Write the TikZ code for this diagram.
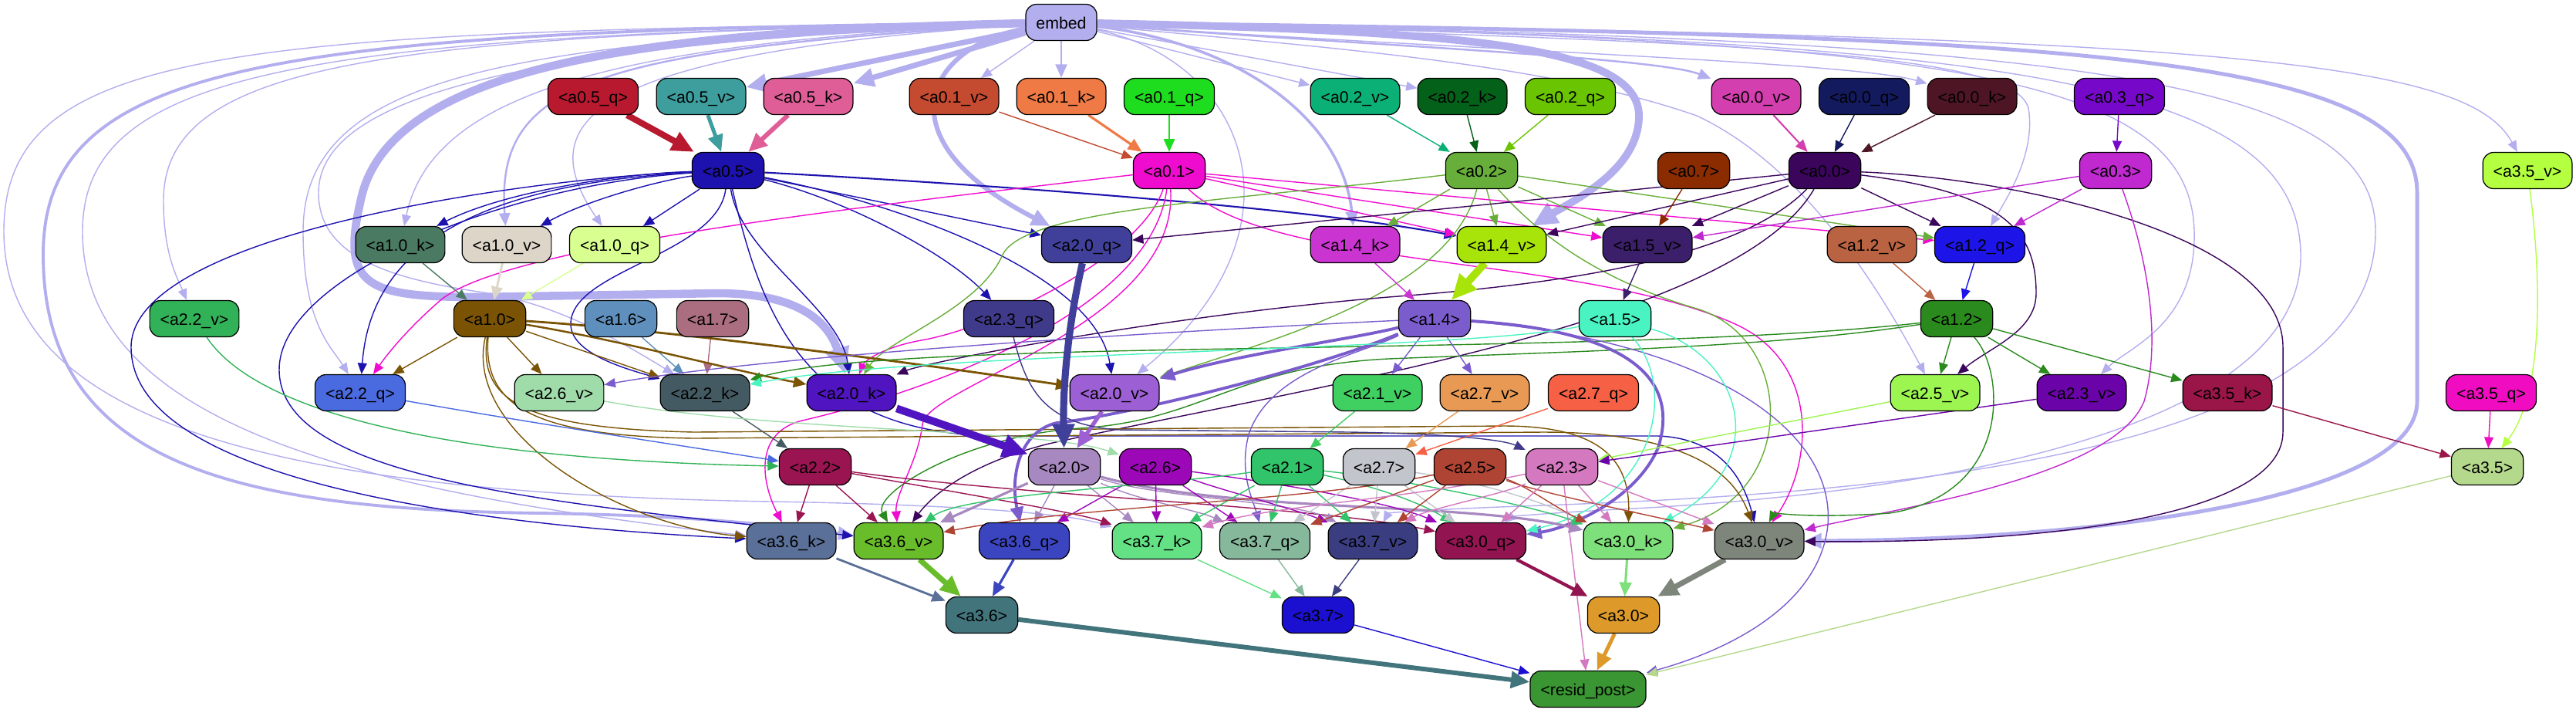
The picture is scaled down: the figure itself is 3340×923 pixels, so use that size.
\documentclass[tikz,border=0pt]{standalone}
\usepackage{fontspec}
\setmainfont{Liberation Sans}
\usepackage{xcolor}
\usepackage{tikz}
\usetikzlibrary{arrows.meta}

\pgfdeclarelayer{edges}
\pgfsetlayers{edges,main}

\definecolor{cemb}{HTML}{B3AEEE}
\definecolor{c05q}{HTML}{B8192F}
\definecolor{c05v}{HTML}{3E9E9E}
\definecolor{c05k}{HTML}{E05E98}
\definecolor{c01v}{HTML}{C44A30}
\definecolor{c01k}{HTML}{F07A45}
\definecolor{c01q}{HTML}{1EDD1E}
\definecolor{c02v}{HTML}{0BB076}
\definecolor{c02k}{HTML}{04611A}
\definecolor{c02q}{HTML}{6AC402}
\definecolor{c00v}{HTML}{D43FAF}
\definecolor{c00q}{HTML}{141A5E}
\definecolor{c00k}{HTML}{4E1625}
\definecolor{c03q}{HTML}{7608CA}
\definecolor{c05}{HTML}{1D12AE}
\definecolor{c01}{HTML}{F00CCF}
\definecolor{c02}{HTML}{68AE3A}
\definecolor{c07}{HTML}{8A2C00}
\definecolor{c00}{HTML}{3B055B}
\definecolor{c03}{HTML}{C028D0}
\definecolor{c35v}{HTML}{B3FF40}
\definecolor{c10k}{HTML}{4A7A62}
\definecolor{c10v}{HTML}{DCD5C8}
\definecolor{c10q}{HTML}{D8FF90}
\definecolor{c20q}{HTML}{40409A}
\definecolor{c14k}{HTML}{CA34D0}
\definecolor{c14v}{HTML}{A8E40A}
\definecolor{c15v}{HTML}{3C1F6A}
\definecolor{c12v}{HTML}{BA6342}
\definecolor{c12q}{HTML}{1D14E8}
\definecolor{c22v}{HTML}{32B258}
\definecolor{c10}{HTML}{7A5404}
\definecolor{c16}{HTML}{5F90BD}
\definecolor{c17}{HTML}{AA6E80}
\definecolor{c23q}{HTML}{403A8A}
\definecolor{c14}{HTML}{7A5CCC}
\definecolor{c15}{HTML}{4AF4C2}
\definecolor{c12}{HTML}{2A8A1E}
\definecolor{c22q}{HTML}{4A6AE0}
\definecolor{c26v}{HTML}{A0DCAA}
\definecolor{c22k}{HTML}{445A62}
\definecolor{c20k}{HTML}{5014C0}
\definecolor{c20v}{HTML}{9C60D4}
\definecolor{c21v}{HTML}{40D062}
\definecolor{c27v}{HTML}{E89A55}
\definecolor{c27q}{HTML}{F66045}
\definecolor{c25v}{HTML}{9CF550}
\definecolor{c23v}{HTML}{6A04A8}
\definecolor{c35k}{HTML}{9A1548}
\definecolor{c35q}{HTML}{F00CC0}
\definecolor{c22}{HTML}{9A1452}
\definecolor{c20}{HTML}{A888C0}
\definecolor{c26}{HTML}{9C07B8}
\definecolor{c21}{HTML}{32C46A}
\definecolor{c27}{HTML}{C2C6CC}
\definecolor{c25}{HTML}{B04434}
\definecolor{c23}{HTML}{D478C0}
\definecolor{c35}{HTML}{B4D88C}
\definecolor{c36k}{HTML}{5A7098}
\definecolor{c36v}{HTML}{6ABD2A}
\definecolor{c36q}{HTML}{3C45C0}
\definecolor{c37k}{HTML}{64E085}
\definecolor{c37q}{HTML}{86B89C}
\definecolor{c37v}{HTML}{3A3D80}
\definecolor{c30q}{HTML}{921450}
\definecolor{c30k}{HTML}{7EE07A}
\definecolor{c30v}{HTML}{7E867C}
\definecolor{c36}{HTML}{42747C}
\definecolor{c37}{HTML}{1B10D0}
\definecolor{c30}{HTML}{DD9A2A}
\definecolor{cres}{HTML}{3A9632}

\begin{document}
\begin{tikzpicture}[x=0.01cm, y=-0.01cm, >={Triangle[length=3.2pt 2.2, width=2.6pt 2]},
  blk/.style={draw=black, line width=0.35pt, rounded corners=0.14cm, minimum height=0.47cm, minimum width=0.9cm, inner xsep=0.135cm, inner ysep=0pt, text height=0.72em, text depth=0.22em, font=\fontsize{6.05}{7}\selectfont},
  lnk/.style={->, line width=0.4pt}]
  \useasboundingbox (0,0) rectangle (3340,923);
  % input
  \node[blk, fill=cemb] (embed) at (1376,29) {embed};
  % layer 0 q/k/v
  \node[blk, fill=c05q] (a05q) at (769,125) {<a0.5\_q>};
  \node[blk, fill=c05v] (a05v) at (909,125) {<a0.5\_v>};
  \node[blk, fill=c05k] (a05k) at (1048,125) {<a0.5\_k>};
  \node[blk, fill=c01v] (a01v) at (1237,125) {<a0.1\_v>};
  \node[blk, fill=c01k] (a01k) at (1376,125) {<a0.1\_k>};
  \node[blk, fill=c01q] (a01q) at (1516,125) {<a0.1\_q>};
  \node[blk, fill=c02v] (a02v) at (1757,125) {<a0.2\_v>};
  \node[blk, fill=c02k] (a02k) at (1896,125) {<a0.2\_k>};
  \node[blk, fill=c02q] (a02q) at (2036,125) {<a0.2\_q>};
  \node[blk, fill=c00v] (a00v) at (2277,125) {<a0.0\_v>};
  \node[blk, fill=c00q] (a00q) at (2417,125) {<a0.0\_q>};
  \node[blk, fill=c00k] (a00k) at (2557,125) {<a0.0\_k>};
  \node[blk, fill=c03q] (a03q) at (2748,125) {<a0.3\_q>};
  % layer 0 heads
  \node[blk, fill=c05] (a05) at (944,221) {<a0.5>};
  \node[blk, fill=c01] (a01) at (1516,221) {<a0.1>};
  \node[blk, fill=c02] (a02) at (1921,221) {<a0.2>};
  \node[blk, fill=c07] (a07) at (2196,221) {<a0.7>};
  \node[blk, fill=c00] (a00) at (2366,221) {<a0.0>};
  \node[blk, fill=c03] (a03) at (2743,221) {<a0.3>};
  \node[blk, fill=c35v] (a35v) at (3277,221) {<a3.5\_v>};
  % layer 1 q/k/v
  \node[blk, fill=c10k] (a10k) at (519,317) {<a1.0\_k>};
  \node[blk, fill=c10v] (a10v) at (657,317) {<a1.0\_v>};
  \node[blk, fill=c10q] (a10q) at (797,317) {<a1.0\_q>};
  \node[blk, fill=c20q] (a20q) at (1409,317) {<a2.0\_q>};
  \node[blk, fill=c14k] (a14k) at (1757,317) {<a1.4\_k>};
  \node[blk, fill=c14v] (a14v) at (1947,317) {<a1.4\_v>};
  \node[blk, fill=c15v] (a15v) at (2136,317) {<a1.5\_v>};
  \node[blk, fill=c12v] (a12v) at (2427,317) {<a1.2\_v>};
  \node[blk, fill=c12q] (a12q) at (2567,317) {<a1.2\_q>};
  % layer 1 heads
  \node[blk, fill=c22v] (a22v) at (252,413) {<a2.2\_v>};
  \node[blk, fill=c10] (a10) at (635,413) {<a1.0>};
  \node[blk, fill=c16] (a16) at (805,413) {<a1.6>};
  \node[blk, fill=c17] (a17) at (924,413) {<a1.7>};
  \node[blk, fill=c23q] (a23q) at (1308,413) {<a2.3\_q>};
  \node[blk, fill=c14] (a14) at (1860,413) {<a1.4>};
  \node[blk, fill=c15] (a15) at (2094,413) {<a1.5>};
  \node[blk, fill=c12] (a12) at (2537,413) {<a1.2>};
  % layer 2 q/k/v
  \node[blk, fill=c22q] (a22q) at (467,509) {<a2.2\_q>};
  \node[blk, fill=c26v] (a26v) at (725,509) {<a2.6\_v>};
  \node[blk, fill=c22k] (a22k) at (914,509) {<a2.2\_k>};
  \node[blk, fill=c20k] (a20k) at (1104,509) {<a2.0\_k>};
  \node[blk, fill=c20v] (a20v) at (1445,509) {<a2.0\_v>};
  \node[blk, fill=c21v] (a21v) at (1786,509) {<a2.1\_v>};
  \node[blk, fill=c27v] (a27v) at (1925,509) {<a2.7\_v>};
  \node[blk, fill=c27q] (a27q) at (2066,509) {<a2.7\_q>};
  \node[blk, fill=c25v] (a25v) at (2509,509) {<a2.5\_v>};
  \node[blk, fill=c23v] (a23v) at (2699,509) {<a2.3\_v>};
  \node[blk, fill=c35k] (a35k) at (2888,509) {<a3.5\_k>};
  \node[blk, fill=c35q] (a35q) at (3230,509) {<a3.5\_q>};
  % layer 2 heads
  \node[blk, fill=c22] (a22) at (1057,605) {<a2.2>};
  \node[blk, fill=c20] (a20) at (1380,605) {<a2.0>};
  \node[blk, fill=c26] (a26) at (1498,605) {<a2.6>};
  \node[blk, fill=c21] (a21) at (1669,605) {<a2.1>};
  \node[blk, fill=c27] (a27) at (1788,605) {<a2.7>};
  \node[blk, fill=c25] (a25) at (1906,605) {<a2.5>};
  \node[blk, fill=c23] (a23) at (2025,605) {<a2.3>};
  \node[blk, fill=c35] (a35) at (3225,605) {<a3.5>};
  % layer 3 q/k/v
  \node[blk, fill=c36k] (a36k) at (1026,701) {<a3.6\_k>};
  \node[blk, fill=c36v] (a36v) at (1165,701) {<a3.6\_v>};
  \node[blk, fill=c36q] (a36q) at (1328,701) {<a3.6\_q>};
  \node[blk, fill=c37k] (a37k) at (1500,701) {<a3.7\_k>};
  \node[blk, fill=c37q] (a37q) at (1640,701) {<a3.7\_q>};
  \node[blk, fill=c37v] (a37v) at (1780,701) {<a3.7\_v>};
  \node[blk, fill=c30q] (a30q) at (1920,701) {<a3.0\_q>};
  \node[blk, fill=c30k] (a30k) at (2111,701) {<a3.0\_k>};
  \node[blk, fill=c30v] (a30v) at (2281,701) {<a3.0\_v>};
  % layer 3 heads and output
  \node[blk, fill=c36] (a36) at (1273,797) {<a3.6>};
  \node[blk, fill=c37] (a37) at (1709,797) {<a3.7>};
  \node[blk, fill=c30] (a30) at (2105,797) {<a3.0>};
  \node[blk, fill=cres] (resid) at (2059,893) {<resid\_post>};

  \begin{pgfonlayer}{edges}
  % embed fan, right side
  \draw[lnk, cemb, line width=2pt] (embed) -- (a05v);
  \draw[lnk, cemb, line width=2pt] (embed) -- (a05k);
  \draw[lnk, cemb] (embed) -- (a01v);
  \draw[lnk, cemb, line width=0.8pt] (embed) -- (a01k);
  \draw[lnk, cemb] (embed) -- (a02v);
  \draw[lnk, cemb] (embed) -- (a02k);
  \draw[lnk, cemb, line width=0.7pt] (embed) .. controls (1800,60) and (2150,75) .. (a00v);
  \draw[lnk, cemb] (embed) .. controls (1900,65) and (2400,80) .. (a00k);
  \draw[lnk, cemb] (embed) .. controls (2300,55) and (2610,70) .. (2630,140) .. controls (2640,200) and (2600,260) .. (a12q);
  \draw[lnk, cemb] (embed) .. controls (2900,45) and (3200,80) .. (a35v);
  \draw[lnk, cemb, line width=1.4pt] (embed) .. controls (2700,45) and (3134,70) .. (3134,250) -- (3134,520) .. controls (3134,650) and (2700,700) .. (a30v);
  \draw[lnk, cemb] (embed) .. controls (2500,50) and (2840,90) .. (2845,300) .. controls (2848,420) and (2760,450) .. (a23v);
  \draw[lnk, cemb] (embed) .. controls (2600,50) and (2980,100) .. (2983,330) .. controls (2985,560) and (2500,640) .. (2100,660) .. controls (2000,665) and (1960,670) .. (a30q);
  \draw[lnk, cemb] (embed) .. controls (2700,50) and (3080,100) .. (3080,300) .. controls (3080,600) and (2400,640) .. (2000,655) .. controls (1850,660) and (1800,665) .. (a37v);
  \draw[lnk, cemb] (embed) .. controls (1700,60) and (2000,80) .. (2200,150) .. controls (2350,220) and (2450,400) .. (a25v);
  \draw[lnk, cemb, line width=1pt] (embed) .. controls (1600,55) and (1740,150) .. (a14k);
  \draw[lnk, cemb, line width=2.8pt] (embed) .. controls (1900,40) and (2125,60) .. (2125,150) .. controls (2125,220) and (2040,260) .. (a14v);
  \draw[lnk, cemb] (embed) .. controls (1620,80) and (1700,300) .. (a20v);
  % embed fan, left side
  \draw[lnk, cemb, line width=1.7pt] (embed) .. controls (1200,60) and (1140,180) .. (a20q);
  \draw[lnk, cemb, line width=3pt] (embed) .. controls (900,40) and (520,70) .. (470,250) .. controls (440,370) and (470,385) .. (620,385) -- (930,380) .. controls (1040,380) and (1075,420) .. (a20k);
  \draw[lnk, cemb] (embed) .. controls (800,55) and (560,120) .. (a10k);
  \draw[lnk, cemb, line width=0.7pt] (embed) .. controls (760,65) and (643,110) .. (a10v);
  \draw[lnk, cemb] (embed) .. controls (750,70) and (690,160) .. (a10q);
  \draw[lnk, cemb] (embed) .. controls (500,45) and (212,80) .. (212,260) .. controls (212,330) and (230,360) .. (a22v);
  \draw[lnk, cemb] (embed) .. controls (650,50) and (393,100) .. (393,300) .. controls (393,420) and (430,450) .. (a22q);
  \draw[lnk, cemb] (embed) .. controls (700,55) and (413,120) .. (413,250) .. controls (413,330) and (500,360) .. (620,378) .. controls (720,392) and (800,440) .. (a22k);
  \draw[lnk, cemb] (embed) .. controls (300,40) and (5,60) .. (5,300) .. controls (5,560) and (400,640) .. (1000,650) .. controls (1300,655) and (1400,670) .. (a37k);
  \draw[lnk, cemb, line width=1.1pt] (embed) .. controls (350,40) and (56,80) .. (56,330) .. controls (56,600) and (300,660) .. (700,665) .. controls (900,668) and (1000,680) .. (a36v);
  \draw[lnk, cemb] (embed) .. controls (400,45) and (107,90) .. (107,300) .. controls (107,560) and (500,640) .. (a36k);
  % layer 0 inputs
  \draw[lnk, c05q, line width=2.3pt] (a05q) -- (a05);
  \draw[lnk, c05v, line width=1.4pt] (a05v) -- (a05);
  \draw[lnk, c05k, line width=1.7pt] (a05k) -- (a05);
  \draw[lnk, c01v] (a01v) -- (a01);
  \draw[lnk, c01k, line width=0.9pt] (a01k) -- (a01);
  \draw[lnk, c01q, line width=0.7pt] (a01q) -- (a01);
  \draw[lnk, c02v] (a02v) -- (a02);
  \draw[lnk, c02k] (a02k) -- (a02);
  \draw[lnk, c02q] (a02q) -- (a02);
  \draw[lnk, c00v, line width=0.6pt] (a00v) -- (a00);
  \draw[lnk, c00q] (a00q) -- (a00);
  \draw[lnk, c00k] (a00k) -- (a00);
  \draw[lnk, c03q] (a03q) -- (a03);
  % a0.5 out
  \draw[lnk, c05] (a05) .. controls (800,225) and (650,250) .. (a10k);
  \draw[lnk, c05] (a05) .. controls (850,235) and (760,260) .. (a10v);
  \draw[lnk, c05] (a05) -- (a10q);
  \draw[lnk, c05] (a05) .. controls (600,240) and (480,330) .. (a22q);
  \draw[lnk, c05] (a05) .. controls (700,230) and (170,300) .. (170,450) .. controls (170,620) and (600,680) .. (a36k);
  \draw[lnk, c05] (a05) .. controls (650,240) and (360,360) .. (362,480) .. controls (364,620) and (700,650) .. (a36v);
  \draw[lnk, c05] (a05) .. controls (930,330) and (740,350) .. (740,420) .. controls (740,460) and (820,480) .. (a22k);
  \draw[lnk, c05] (a05) .. controls (960,330) and (1090,400) .. (a20k);
  \draw[lnk, c05] (a05) .. controls (1150,260) and (1420,350) .. (a20v);
  \draw[lnk, c05] (a05) .. controls (1100,260) and (1230,330) .. (a23q);
  \draw[lnk, c05] (a05) -- (a20q);
  \draw[lnk, c05, line width=0.6pt] (a05) .. controls (1300,240) and (1700,270) .. (a14v);
  \draw[lnk, c05] (a05) .. controls (990,420) and (1050,565) .. (1300,565) -- (2150,565) .. controls (2230,568) and (2260,620) .. (a30v);
  % a0.1 out
  \draw[lnk, c01] (a01) -- (a14v);
  \draw[lnk, c01] (a01) -- (a15v);
  \draw[lnk, c01] (a01) -- (a12q);
  \draw[lnk, c01] (a01) .. controls (1100,270) and (650,320) .. (570,390) .. controls (530,425) and (505,455) .. (a22q);
  \draw[lnk, c01] (a01) .. controls (1480,330) and (1300,420) .. (1200,440) .. controls (1140,450) and (1120,470) .. (a20k);
  \draw[lnk, c01] (a01) .. controls (1490,420) and (1150,520) .. (1040,545) .. controls (980,560) and (985,620) .. (a36k);
  \draw[lnk, c01] (a01) .. controls (1530,420) and (1200,500) .. (1196,550) .. controls (1190,600) and (1160,640) .. (a36v);
  \draw[lnk, c01] (a01) .. controls (1650,350) and (2050,330) .. (2250,420) .. controls (2360,470) and (2350,600) .. (a30v);
  % a0.2 out
  \draw[lnk, c02] (a02) -- (a14k);
  \draw[lnk, c02] (a02) -- (a14v);
  \draw[lnk, c02] (a02) -- (a15v);
  \draw[lnk, c02] (a02) -- (a12q);
  \draw[lnk, c02] (a02) .. controls (1600,260) and (1330,270) .. (1300,330) .. controls (1270,400) and (1150,440) .. (a20k);
  \draw[lnk, c02] (a02) .. controls (1880,380) and (1650,440) .. (a20v);
  \draw[lnk, c02] (a02) .. controls (2000,310) and (2080,365) .. (2200,400) .. controls (2330,440) and (2330,640) .. (a30k);
  % a0.0, a0.3, a0.7 out
  \draw[lnk, c00] (a00) -- (a20q);
  \draw[lnk, c00] (a00) -- (a14v);
  \draw[lnk, c00] (a00) -- (a15v);
  \draw[lnk, c00] (a00) -- (a12q);
  \draw[lnk, c00] (a00) .. controls (2250,340) and (2000,370) .. (1800,385) .. controls (1500,410) and (1200,470) .. (a20k);
  \draw[lnk, c00] (a00) .. controls (2600,250) and (2640,300) .. (2640,380) .. controls (2640,430) and (2580,450) .. (a25v);
  \draw[lnk, c00] (a00) .. controls (2250,420) and (1700,500) .. (1360,575) .. controls (1260,600) and (1210,640) .. (a36v);
  \draw[lnk, c00] (a00) .. controls (2600,230) and (2960,300) .. (2960,450) -- (2960,560) .. controls (2960,660) and (2700,705) .. (a30v);
  \draw[lnk, c03] (a03) -- (a15v);
  \draw[lnk, c03] (a03) -- (a12q);
  \draw[lnk, c03] (a03) .. controls (2790,350) and (2800,450) .. (2780,520) .. controls (2740,620) and (2450,660) .. (a30v);
  \draw[lnk, c07] (a07) -- (a15v);
  % layer 1 inputs
  \draw[lnk, c10k] (a10k) -- (a10);
  \draw[lnk, c10v, line width=0.8pt] (a10v) -- (a10);
  \draw[lnk, c10q] (a10q) -- (a10);
  \draw[lnk, c14k] (a14k) -- (a14);
  \draw[lnk, c14v, line width=2.8pt] (a14v) -- (a14);
  \draw[lnk, c15v] (a15v) -- (a15);
  \draw[lnk, c12v] (a12v) -- (a12);
  \draw[lnk, c12q] (a12q) -- (a12);
  \draw[lnk, c16] (a16) -- (a22k);
  \draw[lnk, c17] (a17) -- (a22k);
  % a1.0 out
  \draw[lnk, c10] (a10) -- (a22q);
  \draw[lnk, c10] (a10) -- (a26v);
  \draw[lnk, c10] (a10) -- (a22k);
  \draw[lnk, c10, line width=0.7pt] (a10) .. controls (800,440) and (950,480) .. (a20k);
  \draw[lnk, c10, line width=0.8pt] (a10) .. controls (900,430) and (1250,480) .. (a20v);
  \draw[lnk, c10] (a10) .. controls (620,520) and (680,555) .. (900,560) -- (1950,552) .. controls (2080,552) and (2113,600) .. (a30k);
  \draw[lnk, c10] (a10) .. controls (625,530) and (700,565) .. (900,568) -- (2000,560) .. controls (2200,560) and (2250,620) .. (a30v);
  \draw[lnk, c10] (a10) .. controls (600,560) and (800,680) .. (a36k);
  % a1.2 out
  \draw[lnk, c12] (a12) -- (a25v);
  \draw[lnk, c12] (a12) -- (a23v);
  \draw[lnk, c12] (a12) -- (a35k);
  \draw[lnk, c12] (a12) .. controls (2300,440) and (2000,445) .. (1600,452) .. controls (1200,458) and (1050,470) .. (a22k);
  \draw[lnk, c12] (a12) .. controls (2300,450) and (2050,455) .. (1800,465) .. controls (1600,475) and (1560,545) .. (1400,555) .. controls (1250,565) and (1130,640) .. (a36v);
  \draw[lnk, c12] (a12) .. controls (2600,480) and (2610,640) .. (2450,665) .. controls (2350,672) and (2300,665) .. (a30v);
  % a1.4 out
  \draw[lnk, c14] (a14) .. controls (1500,430) and (1000,460) .. (a26v);
  \draw[lnk, c14, line width=1.1pt] (a14) .. controls (1750,440) and (1600,460) .. (a20v);
  \draw[lnk, c14, line width=1.1pt] (a14) .. controls (1700,480) and (1450,540) .. (1370,548) .. controls (1320,560) and (1310,620) .. (a36q);
  \draw[lnk, c14] (a14) -- (a21v);
  \draw[lnk, c14] (a14) -- (a27v);
  \draw[lnk, c14, line width=1.1pt] (a14) .. controls (2130,430) and (2175,500) .. (2150,580) .. controls (2120,650) and (2030,685) .. (a30q);
  \draw[lnk, c14] (a14) .. controls (1760,460) and (1650,480) .. (1620,560) .. controls (1605,610) and (1625,650) .. (a37q);
  \draw[lnk, c14] (a14) .. controls (2200,440) and (2380,550) .. (2370,680) .. controls (2360,780) and (2250,840) .. (resid);
  % a1.5 out
  \draw[lnk, c15] (a15) .. controls (2175,500) and (2150,650) .. (a30q);
  \draw[lnk, c15] (a15) .. controls (2260,460) and (2300,600) .. (a30k);
  \draw[lnk, c15] (a15) .. controls (1900,455) and (1200,455) .. (a22k);
  % layer 2 inputs
  \draw[lnk, c22k] (a22k) -- (a22);
  \draw[lnk, c22q] (a22q) .. controls (700,550) and (900,580) .. (a22);
  \draw[lnk, c22v] (a22v) .. controls (330,530) and (560,595) .. (a22);
  \draw[lnk, c26v] (a26v) .. controls (1000,560) and (1350,555) .. (a26);
  \draw[lnk, c20q, line width=2.6pt] (a20q) .. controls (1385,420) and (1378,500) .. (a20);
  \draw[lnk, c20k, line width=2.8pt] (a20k) -- (a20);
  \draw[lnk, c20v, line width=1.5pt] (a20v) -- (a20);
  \draw[lnk, c21v] (a21v) -- (a21);
  \draw[lnk, c27v] (a27v) -- (a27);
  \draw[lnk, c27q] (a27q) -- (a27);
  \draw[lnk, c23q] (a23q) .. controls (1330,500) and (1350,550) .. (1450,557) -- (1750,560) .. controls (1880,562) and (1950,570) .. (a23);
  \draw[lnk, c25v] (a25v) -- (a23);
  \draw[lnk, c23v] (a23v) -- (a23);
  \draw[lnk, c35k] (a35k) -- (a35);
  \draw[lnk, c35q] (a35q) -- (a35);
  \draw[lnk, c35v] (a35v) .. controls (3300,400) and (3290,520) .. (a35);
  % layer 2 out
  \draw[lnk, c22] (a22) -- (a36k);
  \draw[lnk, c22] (a22) -- (a36v);
  \draw[lnk, c22] (a22) .. controls (1250,640) and (1400,665) .. (a37k);
  \draw[lnk, c22] (a22) .. controls (1350,645) and (1700,655) .. (a30q);
  \draw[lnk, c20, line width=0.9pt] (a20) -- (a36v);
  \draw[lnk, c20] (a20) -- (a36q);
  \draw[lnk, c20] (a20) -- (a37k);
  \draw[lnk, c20] (a20) .. controls (1480,650) and (1550,660) .. (a37q);
  \draw[lnk, c20] (a20) .. controls (1500,645) and (1680,650) .. (a37v);
  \draw[lnk, c20, line width=0.9pt] (a20) .. controls (1600,665) and (1900,650) .. (a30k);
  \draw[lnk, c26] (a26) -- (a36q);
  \draw[lnk, c26] (a26) -- (a37k);
  \draw[lnk, c26] (a26) -- (a37q);
  \draw[lnk, c26] (a26) .. controls (1600,640) and (1680,660) .. (a37v);
  \draw[lnk, c26] (a26) .. controls (1650,625) and (1800,650) .. (a30q);
  \draw[lnk, c21] (a21) -- (a37k);
  \draw[lnk, c21] (a21) -- (a37q);
  \draw[lnk, c21] (a21) -- (a37v);
  \draw[lnk, c21] (a21) .. controls (1780,630) and (1840,650) .. (a30q);
  \draw[lnk, c21] (a21) .. controls (1850,625) and (2000,660) .. (a30k);
  \draw[lnk, c21] (a21) .. controls (1500,630) and (1250,640) .. (a36v);
  \draw[lnk, c27] (a27) -- (a37q);
  \draw[lnk, c27] (a27) -- (a37v);
  \draw[lnk, c27] (a27) -- (a30q);
  \draw[lnk, c27] (a27) .. controls (1950,630) and (2020,660) .. (a30k);
  \draw[lnk, c25] (a25) -- (a37q);
  \draw[lnk, c25] (a25) -- (a37v);
  \draw[lnk, c25] (a25) .. controls (1700,650) and (1400,655) .. (a36v);
  \draw[lnk, c25] (a25) .. controls (1980,630) and (2020,660) .. (a30k);
  \draw[lnk, c25] (a25) .. controls (2000,640) and (2150,670) .. (a30v);
  \draw[lnk, c23] (a23) -- (a30q);
  \draw[lnk, c23] (a23) -- (a30k);
  \draw[lnk, c23] (a23) -- (a30v);
  \draw[lnk, c23] (a23) -- (resid);
  \draw[lnk, c23] (a23) .. controls (1950,640) and (1850,660) .. (a37v);
  \draw[lnk, c23] (a23) .. controls (1800,650) and (1650,655) .. (a37k);
  % layer 3 and output
  \draw[lnk, c36k, line width=0.8pt] (a36k) -- (a36);
  \draw[lnk, c36v, line width=2pt] (a36v) -- (a36);
  \draw[lnk, c36q, line width=0.9pt] (a36q) -- (a36);
  \draw[lnk, c37k] (a37k) -- (a37);
  \draw[lnk, c37q] (a37q) -- (a37);
  \draw[lnk, c37v] (a37v) -- (a37);
  \draw[lnk, c30q, line width=1.2pt] (a30q) -- (a30);
  \draw[lnk, c30k, line width=0.9pt] (a30k) -- (a30);
  \draw[lnk, c30v, line width=2pt] (a30v) -- (a30);
  \draw[lnk, c36, line width=1.7pt] (a36) -- (resid);
  \draw[lnk, c37] (a37) -- (resid);
  \draw[lnk, c30, line width=1.4pt] (a30) -- (resid);
  \draw[lnk, c35] (a35) -- (resid);
  \end{pgfonlayer}
\end{tikzpicture}
\end{document}
